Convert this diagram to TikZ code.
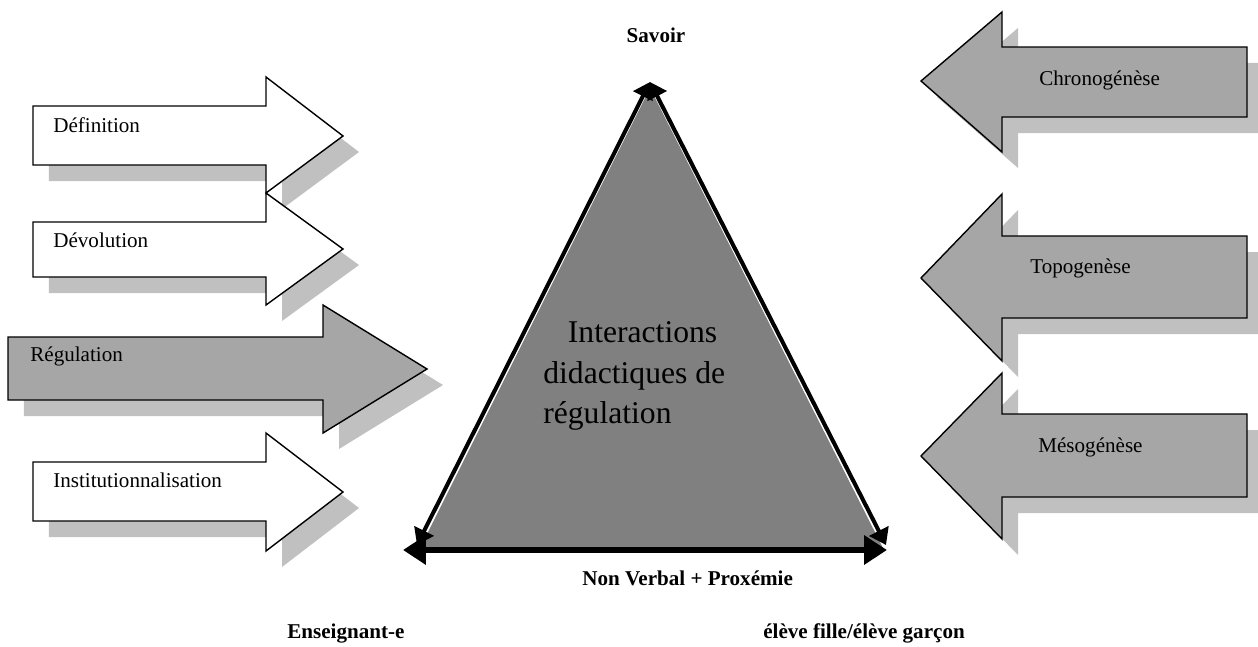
\documentclass[tikz,border=0pt]{standalone}
\usepackage{fontspec}
\setmainfont{Liberation Serif}
\usetikzlibrary{arrows.meta}
\usetikzlibrary{shadows}

\definecolor{ombre}{RGB}{192,192,192}
\definecolor{gris}{RGB}{166,166,166}
\definecolor{grisfonce}{RGB}{128,128,128}

\begin{document}
\begin{tikzpicture}[x=0.02cm,y=-0.02cm,
        fleche/.style={draw=black,line width=0.8pt,
            drop shadow={shadow xshift=0.32cm,shadow yshift=-0.32cm,fill=ombre,opacity=1}},
        cote/.style={line width=2.3pt,{Triangle[length=9pt,width=12pt]}-{Triangle[length=9pt,width=12pt]}},
        base/.style={line width=3.4pt,{Triangle[length=13pt,width=16pt]}-{Triangle[length=13pt,width=16pt]}}]
    \useasboundingbox (0,0) rectangle (1258,646);

    % fleches de gauche
    \path[fleche,fill=white] (33,106) -- (266,106) -- (266,77) -- (343,136)
        -- (266,193) -- (266,165) -- (33,165) -- cycle;
    \path[fleche,fill=white] (33,222) -- (266,222) -- (266,193) -- (343,249)
        -- (266,305) -- (266,277) -- (33,277) -- cycle;
    \path[fleche,fill=gris] (8,337) -- (323,337) -- (323,305) -- (427,369)
        -- (323,433) -- (323,400) -- (8,400) -- cycle;
    \path[fleche,fill=white] (33,462) -- (266,462) -- (266,433) -- (343,492)
        -- (266,551) -- (266,521) -- (33,521) -- cycle;

    % fleches de droite
    \path[fleche,fill=gris] (1247,47) -- (1002,47) -- (1002,12) -- (921,81)
        -- (1002,152) -- (1002,117) -- (1247,117) -- cycle;
    \path[fleche,fill=gris] (1247,236) -- (1002,236) -- (1002,194) -- (921,278)
        -- (1002,361) -- (1002,318) -- (1247,318) -- cycle;
    \path[fleche,fill=gris] (1247,414) -- (1002,414) -- (1002,373) -- (921,456)
        -- (1002,539) -- (1002,497) -- (1247,497) -- cycle;

    % triangle
    \coordinate (savoir) at (650,82);
    \coordinate (ens) at (417,545);
    \coordinate (eleve) at (886,545);
    \coordinate (ensbas) at (403,550);
    \coordinate (elevebas) at (887,550);
    \fill[grisfonce] (650,88) -- (420,548) -- (883,548) -- cycle;
    \draw[cote] (savoir) -- (ens);
    \draw[cote] (savoir) -- (eleve);
    \draw[base] (ensbas) -- (elevebas);

    \begin{scope}[every node/.style={font=\fontsize{12}{14}\selectfont,inner sep=0pt}]
        \node[anchor=base west] (def) at (53,132) {Définition};
        \node[anchor=base west] (dev) at (53,247) {Dévolution};
        \node[anchor=base west] (reg) at (30,361) {Régulation};
        \node[anchor=base west] (inst) at (53,487) {Institutionnalisation};
        \node[anchor=base west] (chrono) at (1039,85) {Chronogénèse};
        \node[anchor=base west] (topo) at (1030,273) {Topogenèse};
        \node[anchor=base west] (meso) at (1038,452) {Mésogénèse};
    \end{scope}

    \begin{scope}[every node/.style={font=\fontsize{12}{14}\selectfont\bfseries,inner sep=0pt}]
        \node[anchor=base] (tsavoir) at (656,42) {Savoir};
        \node[anchor=base west] (tbas) at (582,585) {Non Verbal + Proxémie};
        \node[anchor=base west] (tens) at (287,638) {Enseignant-e};
        \node[anchor=base west] (televe) at (763,638) {élève fille/élève garçon};
    \end{scope}

    \node[anchor=north west,align=left,inner sep=0pt,
        font=\fontsize{18}{23.2}\selectfont] (inter) at (543,321)
        {\hspace*{14pt}Interactions\\didactiques de\\régulation};
\end{tikzpicture}
\end{document}
